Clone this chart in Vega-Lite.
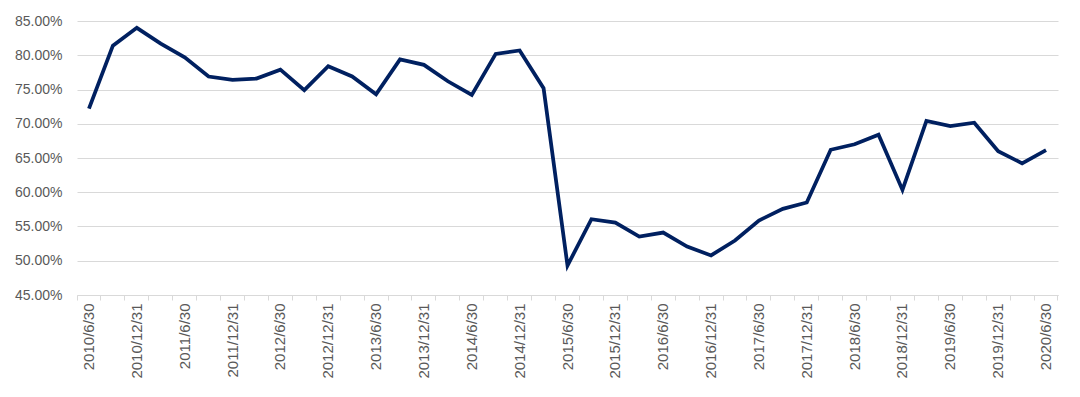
{
  "$schema": "https://vega.github.io/schema/vega-lite/v6.json",
  "width": 981,
  "height": 274,
  "autosize": {"type": "none"},
  "padding": {"left": 77, "top": 21, "right": 22, "bottom": 102},
  "background": "white",
  "config": {
    "view": {"stroke": null},
    "font": "Liberation Sans"
  },
  "data": {
    "values": [
      {"date": "2010/6/30", "value": 0.722},
      {"date": "2010/9/30", "value": 0.814},
      {"date": "2010/12/31", "value": 0.840},
      {"date": "2011/3/31", "value": 0.817},
      {"date": "2011/6/30", "value": 0.797},
      {"date": "2011/9/30", "value": 0.769},
      {"date": "2011/12/31", "value": 0.764},
      {"date": "2012/3/31", "value": 0.766},
      {"date": "2012/6/30", "value": 0.779},
      {"date": "2012/9/30", "value": 0.749},
      {"date": "2012/12/31", "value": 0.784},
      {"date": "2013/3/31", "value": 0.769},
      {"date": "2013/6/30", "value": 0.743},
      {"date": "2013/9/30", "value": 0.794},
      {"date": "2013/12/31", "value": 0.786},
      {"date": "2014/3/31", "value": 0.762},
      {"date": "2014/6/30", "value": 0.742},
      {"date": "2014/9/30", "value": 0.802},
      {"date": "2014/12/31", "value": 0.807},
      {"date": "2015/3/31", "value": 0.752},
      {"date": "2015/6/30", "value": 0.493},
      {"date": "2015/9/30", "value": 0.5607},
      {"date": "2015/12/31", "value": 0.5558},
      {"date": "2016/3/31", "value": 0.5354},
      {"date": "2016/6/30", "value": 0.5412},
      {"date": "2016/9/30", "value": 0.5208},
      {"date": "2016/12/31", "value": 0.5078},
      {"date": "2017/3/31", "value": 0.5296},
      {"date": "2017/6/30", "value": 0.5588},
      {"date": "2017/9/30", "value": 0.5758},
      {"date": "2017/12/31", "value": 0.585},
      {"date": "2018/3/31", "value": 0.662},
      {"date": "2018/6/30", "value": 0.670},
      {"date": "2018/9/30", "value": 0.684},
      {"date": "2018/12/31", "value": 0.6034},
      {"date": "2019/3/31", "value": 0.704},
      {"date": "2019/6/30", "value": 0.6965},
      {"date": "2019/9/30", "value": 0.7015},
      {"date": "2019/12/31", "value": 0.660},
      {"date": "2020/3/31", "value": 0.6422},
      {"date": "2020/6/30", "value": 0.6615}
    ]
  },
  "encoding": {
    "y": {
      "field": "value",
      "type": "quantitative",
      "scale": {"domain": [0.45, 0.85], "nice": false, "zero": false},
      "axis": {
        "title": null,
        "values": [0.45, 0.5, 0.55, 0.6, 0.65, 0.7, 0.75, 0.8, 0.85],
        "format": ".2%",
        "domain": false,
        "ticks": false,
        "tickSize": 0,
        "labelPadding": 15,
        "labelFontSize": 14,
        "labelColor": "#595959",
        "gridColor": "#d9d9d9",
        "gridWidth": 1
      }
    }
  },
  "layer": [
    {
      "mark": {"type": "line", "strokeOpacity": 0},
      "encoding": {
        "x": {
          "field": "date",
          "type": "ordinal",
          "sort": null,
          "scale": {"type": "band", "paddingInner": 0, "paddingOuter": 0},
          "axis": {
            "orient": "bottom",
            "title": null,
            "bandPosition": 1,
            "tickExtra": true,
            "ticks": true,
            "tickSize": 5,
            "tickColor": "#d9d9d9",
            "domainColor": "#d9d9d9",
            "domainWidth": 1,
            "grid": false,
            "labels": false
          }
        }
      }
    },
    {
      "mark": {"type": "line", "color": "#002060", "strokeWidth": 3.75},
      "encoding": {
        "x": {
          "field": "date",
          "type": "ordinal",
          "sort": null,
          "scale": {"type": "band", "paddingInner": 0, "paddingOuter": 0},
          "axis": {
            "orient": "bottom",
            "title": null,
            "ticks": false,
            "domain": false,
            "grid": false,
            "labelAngle": -90,
            "labelAlign": "right",
            "labelBaseline": "middle",
            "labelPadding": 8,
            "labelOverlap": false,
            "labelFontSize": 15,
            "labelColor": "#595959",
            "labelExpr": "indexof(datum.value, '/3/31') > 0 || indexof(datum.value, '/9/30') > 0 ? '' : datum.value"
          }
        }
      }
    }
  ],
  "resolve": {"axis": {"x": "independent"}}
}
